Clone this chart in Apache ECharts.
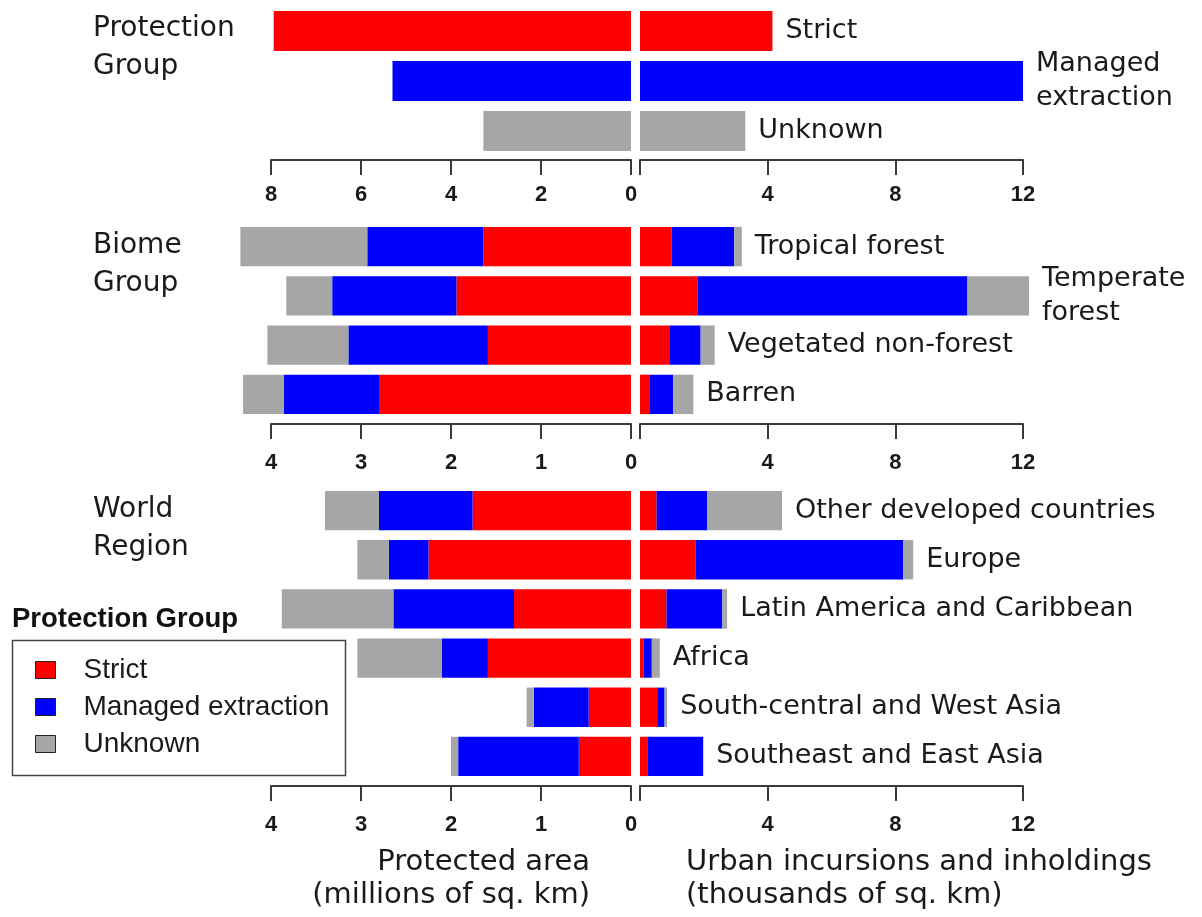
<!DOCTYPE html>
<html>
<head>
<meta charset="utf-8">
<script src="https://cdn.jsdelivr.net/npm/echarts@6/dist/echarts.min.js"></script>
<style>
  html, body { margin: 0; padding: 0; background: #fff; }
  #chart { width: 1202px; height: 917px; }
</style>
</head>
<body>
<div id="chart"></div>
<script>
// Protection groups and their colours
const groupNames = ['Strict', 'Managed extraction', 'Unknown'];
const groupColors = ['#ff0000', '#0000ff', '#a6a6a6'];

// Panel 1: totals by protection group
const protCategories = ['Strict', 'Managed\nextraction', 'Unknown'];
const protArea = [7.94, 5.30, 3.28];    // millions of sq. km
const protUrban = [4.15, 12.0, 3.30];   // thousands of sq. km

// Panel 2: biome groups
const biomeCategories = ['Tropical forest', 'Temperate\nforest', 'Vegetated non-forest', 'Barren'];
const biomeAreaStrict = [1.64, 1.94, 1.59, 2.80];
const biomeAreaManaged = [1.29, 1.38, 1.55, 1.06];
const biomeAreaUnknown = [1.41, 0.51, 0.90, 0.45];
const biomeUrbanStrict = [0.99, 1.80, 0.94, 0.29];
const biomeUrbanManaged = [1.96, 8.46, 0.96, 0.75];
const biomeUrbanUnknown = [0.24, 1.93, 0.44, 0.63];

// Panel 3: world regions
const regionCategories = ['Other developed countries', 'Europe', 'Latin America and Caribbean',
  'Africa', 'South-central and West Asia', 'Southeast and East Asia'];
const regionAreaStrict = [1.76, 2.25, 1.30, 1.59, 0.47, 0.58];
const regionAreaManaged = [1.04, 0.44, 1.34, 0.51, 0.61, 1.34];
const regionAreaUnknown = [0.60, 0.35, 1.24, 0.94, 0.08, 0.08];
const regionUrbanStrict = [0.52, 1.75, 0.83, 0.12, 0.54, 0.23];
const regionUrbanManaged = [1.58, 6.50, 1.75, 0.25, 0.23, 1.75];
const regionUrbanUnknown = [2.35, 0.31, 0.15, 0.25, 0.08, 0.00];

// Axis ticks
const areaTicksTop = { min: 0, max: 8, interval: 2 };
const areaTicks = { min: 0, max: 4, interval: 1 };
const urbanTicks = { min: 0, max: 12, interval: 4 };

const LABEL_FONT = 'DejaVu Sans';
const TICK_FONT = 'Liberation Sans';

// Panel geometry
const LEFT_X = 271, LEFT_W = 360, RIGHT_X = 640, RIGHT_W = 383;
const panels = [
  { top: 6, height: 150, offset: 4, margin: 24 },
  { top: 222, height: 197, offset: 5, margin: 28 },
  { top: 486, height: 295, offset: 5, margin: 28 }
];

const grids = [];
const xAxes = [];
const yAxes = [];
const panelCats = [protCategories, biomeCategories, regionCategories];

panels.forEach((p, i) => {
  grids.push({ left: LEFT_X, width: LEFT_W, top: p.top, height: p.height });
  grids.push({ left: RIGHT_X, width: RIGHT_W, top: p.top, height: p.height });
  const leftTicks = i === 0 ? areaTicksTop : areaTicks;
  const axisCommon = {
    type: 'value',
    position: 'bottom',
    offset: p.offset,
    splitLine: { show: false },
    axisLine: { show: true, lineStyle: { color: '#3a3a3a', width: 2 } },
    axisTick: { show: true, length: 15, lineStyle: { color: '#3a3a3a', width: 2 } },
    axisLabel: {
      margin: p.margin, fontFamily: TICK_FONT, fontWeight: 'bold',
      fontSize: 22, color: '#1a1a1a', showMinLabel: true, showMaxLabel: true
    }
  };
  xAxes.push(Object.assign({}, axisCommon, {
    gridIndex: 2 * i, inverse: true,
    min: leftTicks.min, max: leftTicks.max, interval: leftTicks.interval
  }));
  xAxes.push(Object.assign({}, axisCommon, {
    gridIndex: 2 * i + 1,
    min: urbanTicks.min, max: urbanTicks.max, interval: urbanTicks.interval,
    axisLabel: Object.assign({}, axisCommon.axisLabel, {
      formatter: v => (v === 0 ? '' : String(v))
    })
  }));
  [2 * i, 2 * i + 1].forEach(g => {
    yAxes.push({
      type: 'category', gridIndex: g, data: panelCats[i], inverse: true, show: false
    });
  });
});

const categoryLabel = {
  show: true,
  position: 'right',
  distance: 13,
  fontFamily: LABEL_FONT,
  fontSize: 27,
  lineHeight: 34,
  color: '#1a1a1a',
  formatter: p => p.name
};

const series = [];

// Panel 1: one bar per protection group, coloured by group
series.push({
  type: 'bar', name: 'Protected area by group',
  xAxisIndex: 0, yAxisIndex: 0, barCategoryGap: '20%',
  data: protArea.map((v, i) => ({ value: v, itemStyle: { color: groupColors[i] } })),
  silent: true
});
series.push({
  type: 'bar', name: 'Urban incursions by group',
  xAxisIndex: 1, yAxisIndex: 1, barCategoryGap: '20%', clip: false,
  data: protUrban.map((v, i) => ({ value: v, itemStyle: { color: groupColors[i] } })),
  label: categoryLabel,
  silent: true
});

// Panels 2 and 3: stacked bars by protection group
function addStacked(axisIdx, parts, withLabel) {
  parts.forEach((data, k) => {
    series.push({
      type: 'bar',
      name: groupNames[k],
      xAxisIndex: axisIdx, yAxisIndex: axisIdx,
      stack: 'stack' + axisIdx,
      barCategoryGap: '20%',
      clip: false,
      itemStyle: { color: groupColors[k] },
      label: withLabel && k === parts.length - 1 ? categoryLabel : { show: false },
      data: data
    });
  });
}
addStacked(2, [biomeAreaStrict, biomeAreaManaged, biomeAreaUnknown], false);
addStacked(3, [biomeUrbanStrict, biomeUrbanManaged, biomeUrbanUnknown], true);
addStacked(4, [regionAreaStrict, regionAreaManaged, regionAreaUnknown], false);
addStacked(5, [regionUrbanStrict, regionUrbanManaged, regionUrbanUnknown], true);

// Panel headings, legend frame and axis titles
const titleStyle = { fontFamily: LABEL_FONT, fontSize: 28, lineHeight: 38, fill: '#1a1a1a' };
const axisTitleStyle = { fontFamily: LABEL_FONT, fontSize: 29, fill: '#1a1a1a', verticalAlign: 'middle' };
const graphic = [
  { type: 'text', left: 93, top: 10, style: Object.assign({ text: 'Protection\nGroup' }, titleStyle) },
  { type: 'text', left: 93, top: 227, style: Object.assign({ text: 'Biome\nGroup' }, titleStyle) },
  { type: 'text', left: 93, top: 491, style: Object.assign({ text: 'World\nRegion' }, titleStyle) },
  { type: 'text', left: 12, top: 605, style: {
      text: 'Protection Group', fontFamily: TICK_FONT, fontWeight: 'bold', fontSize: 27.5, fill: '#111' } },
  { type: 'rect', left: 10, top: 638, shape: { width: 333, height: 135 },
    style: { fill: 'none', stroke: '#444', lineWidth: 1.5 } },
  { type: 'text', x: 590, y: 862, style: Object.assign({ text: 'Protected area', align: 'right' }, axisTitleStyle) },
  { type: 'text', x: 590, y: 895, style: Object.assign({ text: '(millions of sq. km)', align: 'right' }, axisTitleStyle) },
  { type: 'text', x: 686, y: 862, style: Object.assign({ text: 'Urban incursions and inholdings', align: 'left' }, axisTitleStyle) },
  { type: 'text', x: 686, y: 895, style: Object.assign({ text: '(thousands of sq. km)', align: 'left' }, axisTitleStyle) }
];

const chart = echarts.init(document.getElementById('chart'), null, { renderer: 'canvas' });
chart.setOption({
  animation: false,
  backgroundColor: '#ffffff',
  grid: grids,
  xAxis: xAxes,
  yAxis: yAxes,
  legend: {
    data: groupNames,
    orient: 'vertical',
    left: 35, top: 656,
    padding: 0,
    icon: 'rect',
    itemWidth: 20, itemHeight: 17,
    itemGap: 9,
    itemStyle: { borderColor: '#222', borderWidth: 1 },
    textStyle: { fontFamily: TICK_FONT, fontSize: 28, color: '#1a1a1a', padding: [0, 0, 0, 23] },
    selectedMode: false
  },
  graphic: graphic,
  series: series
});
</script>
</body>
</html>
